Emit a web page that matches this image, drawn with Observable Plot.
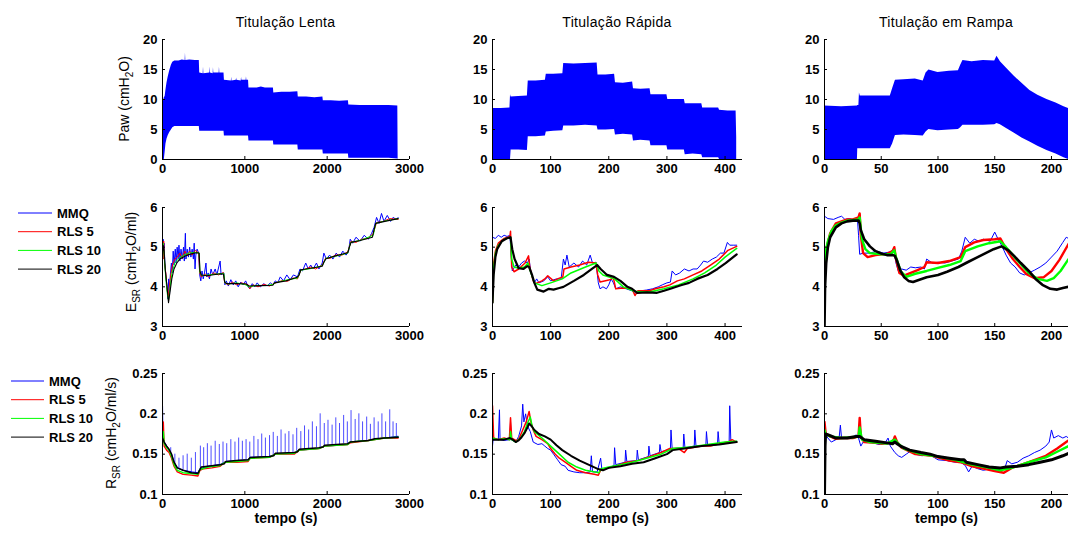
<!DOCTYPE html>
<html><head><meta charset="utf-8">
<script src="https://cdn.jsdelivr.net/npm/d3@7"></script>
<script src="https://cdn.jsdelivr.net/npm/@observablehq/plot@0.6"></script>
<style>
body{margin:0;background:#fff;}
#fig{position:relative;width:1068px;height:539px;overflow:hidden;background:#fff;}
#fig svg{position:absolute;}
</style></head><body><div id="fig"></div>
<script>
// ---------------- DATA ----------------
const titles = ["Titulação Lenta", "Titulação Rápida", "Titulação em Rampa"];
const seriesNames = ["MMQ", "RLS 5", "RLS 10", "RLS 20"];
const xTicks = [[0,1000,2000,3000],[0,100,200,300,400],[0,50,100,150,200]];
const xDomains = [[0,3000],[0,430],[0,215]];
const yTicks = [[0,5,10,15,20],[3,4,5,6],[0.1,0.15,0.2,0.25]];
const yDomains = [[0,20],[3,6],[0.1,0.25]];
const xLabel = "tempo (s)";
const yLabelParts = [
  [["Paw (cmH",0],["2",1],["O)",0]],
  [["E",0],["SR",1],[" (cmH",0],["2",1],["O/ml)",0]],
  [["R",0],["SR",1],[" (cmH",0],["2",1],["O/ml/s)",0]]
];

// Paw envelopes: [t, lower, upper]
const pawLenta = [
[0,0,8.3],[10,0,9.6],[22,0,10.3],[32,1.2,10.5],[42,2.6,11.6],[55,3.4,12.8],[70,4.0,13.8],[88,4.5,14.8],[108,4.9,15.7],[125,5.3,16.2],[150,5.5,16.4],[200,5.5,16.4],[240,5.5,16.6],[275,5.5,16.5],[279,5.5,17.7],[283,5.5,16.5],[330,5.5,16.6],[400,5.5,16.5],[447,5.5,16.5],
[452,4.7,14.4],[494,4.7,14.3],[498,4.7,15.4],[502,4.7,14.3],[575,4.7,14.4],[579,4.7,15.4],[583,4.7,14.4],[615,4.7,14.3],[619,4.7,15.3],[623,4.7,14.4],[688,4.7,14.4],[692,4.7,15.4],[696,4.7,14.4],[747,4.7,14.4],
[752,3.9,13.2],[836,3.9,13.1],[840,3.9,13.7],[844,3.9,13.1],[896,3.9,13.2],[900,3.9,13.6],[904,3.9,13.2],[956,3.9,13.1],[960,3.9,13.7],[964,3.9,13.2],[1016,3.9,13.2],[1020,3.9,13.8],[1024,3.9,13.2],[1045,3.9,13.2],
[1050,3.1,11.9],[1150,3.1,11.9],[1200,3.1,12.1],[1250,3.1,11.9],[1347,3.1,11.9],
[1352,2.4,11.1],[1450,2.4,11.2],[1550,2.4,11.2],[1644,2.4,11.3],
[1649,1.6,10.4],[1750,1.6,10.4],[1850,1.6,10.3],[1948,1.6,10.4],
[1953,0.9,9.8],[2050,0.9,9.8],[2150,0.9,9.7],[2258,0.9,9.8],
[2263,0.2,9.1],[2400,0.2,9.0],[2600,0.2,9.0],[2750,0.2,9.0],[2858,0.1,8.9],[2862,0,0]];
const pawRapida = [
[0,0,8.5],[15,0,8.5],[30,0,8.6],[31,0,10.8],[32,1.6,10.4],[45,1.6,10.5],[60,1.5,10.6],[61.5,3.8,13.1],[75,3.8,13.1],[91,3.9,13.2],[92.5,4.6,14.2],[105,4.7,14.2],[121,4.8,14.3],[122.5,5.6,16.0],[140,5.6,15.9],[160,5.7,16.0],[180,5.6,16.1],[181.5,4.9,14.1],[195,4.9,14.1],[210,5.0,14.2],[211.5,4.1,12.8],[225,4.2,12.7],[241,4.1,12.9],[242.5,3.1,11.8],[255,3.2,11.7],[271,3.1,11.8],[272.5,2.3,10.8],[285,2.3,10.8],[300,2.3,10.8],[301.5,1.6,10.0],[315,1.6,10.0],[330,1.6,10.0],[331.5,0.8,9.3],[345,0.9,9.3],[360,0.8,9.3],[361.5,0.3,8.6],[375,0.3,8.6],[389,0.3,8.6],[390.5,0,8.2],[405,0,8.1],[419,0,8.1],[420,0,3.7]];
const pawRampa = [
[0,0,8.9],[15,0,8.8],[29,0,8.9],[29.3,1.8,9.0],[30.3,1.8,9.0],[30.8,1.8,11.1],[31.5,1.8,10.6],[45,1.8,10.6],[58,1.8,10.6],[60,2.6,11.8],[62.5,4.0,13.2],[70,4.1,13.3],[80,4.0,13.4],[87,3.9,13.1],[89.5,4.6,14.4],[92,5.0,14.9],[100,4.8,14.5],[110,4.9,14.7],[118,5.0,14.8],[120,5.3,15.7],[122,5.7,16.5],[130,5.7,16.3],[140,5.7,16.5],[150,5.8,16.4],[152,6.0,17.2],[155,5.8,16.3],[160,5.2,15.3],[167,4.4,13.9],[174,3.6,12.7],[181,2.9,11.5],[188,2.2,10.7],[196,1.5,10.0],[204,0.9,9.4],[211,0.3,8.8],[215,0,8.5]];

// E_SR series: [t, value]
const eLentaMMQ = [[0,5.2],[4,4.7],[8,5.2],[14,4.9],[20,5.1],[28,4.6],[40,4.3],[55,4.0],[65,3.7],[75,4.2],[85,3.8],[95,4.3],[108,4.6],[118,4.35],[130,4.9],[140,4.55],[155,4.95],[165,4.6],[178,5.0],[190,4.7],[200,5.05],[212,4.65],[225,4.95],[240,4.7],[255,5.0],[265,4.65],[278,5.35],[285,4.7],[300,4.95],[315,4.75],[330,5.0],[345,4.75],[360,4.95],[375,4.7],[385,5.1],[395,4.45],[405,4.8],[420,4.95],[440,4.85],[452,4.3],[465,4.15],[480,4.4],[495,4.2],[510,4.35],[528,4.6],[538,4.25],[555,4.35],[570,4.2],[590,4.45],[610,4.3],[640,4.45],[660,4.3],[700,4.65],[712,4.3],[730,4.35],[745,4.35],[758,4.05],[775,4.15],[800,4.02],[830,4.18],[860,4.05],[890,4.15],[920,4.0],[950,4.12],[980,4.05],[1010,4.15],[1040,4.0],[1060,3.95],[1090,4.08],[1120,4.0],[1150,4.1],[1190,4.0],[1230,4.08],[1270,4.02],[1310,4.1],[1340,4.05],[1370,4.15],[1400,4.1],[1430,4.25],[1470,4.15],[1510,4.3],[1550,4.18],[1590,4.3],[1640,4.25],[1670,4.45],[1700,4.4],[1740,4.6],[1770,4.45],[1800,4.55],[1830,4.45],[1870,4.6],[1900,4.45],[1940,4.6],[1960,4.85],[1990,4.7],[2030,4.8],[2070,4.7],[2110,4.85],[2150,4.75],[2190,4.9],[2230,4.8],[2260,4.9],[2280,5.2],[2310,5.1],[2350,5.25],[2400,5.15],[2450,5.3],[2500,5.2],[2540,5.35],[2570,5.5],[2600,5.75],[2630,5.6],[2660,5.85],[2690,5.65],[2730,5.8],[2770,5.65],[2800,5.75],[2840,5.7],[2862,5.75]];
const eLentaRLS5 = [[0,5.1],[6,4.7],[15,5.15],[25,4.6],[40,4.35],[55,3.95],[70,3.75],[80,3.95],[100,4.3],[120,4.55],[150,4.7],[180,4.75],[210,4.85],[240,4.72],[270,4.9],[300,4.78],[330,4.9],[360,4.8],[400,4.92],[440,4.85],[452,4.35],[470,4.25],[520,4.32],[560,4.25],[620,4.35],[680,4.3],[740,4.36],[755,4.1],[800,4.05],[850,4.12],[900,4.05],[960,4.1],[1040,4.05],[1060,3.95],[1100,4.05],[1160,4.0],[1230,4.06],[1300,4.02],[1350,4.08],[1400,4.12],[1460,4.16],[1520,4.14],[1580,4.22],[1640,4.2],[1680,4.42],[1740,4.45],[1800,4.5],[1860,4.45],[1940,4.55],[1980,4.72],[2040,4.72],[2100,4.8],[2180,4.8],[2250,4.88],[2290,5.15],[2350,5.12],[2420,5.2],[2500,5.22],[2560,5.35],[2600,5.62],[2680,5.65],[2760,5.72],[2862,5.7]];
const eLentaRLS10 = [[0,4.9],[8,5.1],[20,4.8],[40,4.2],[60,3.8],[73,3.65],[90,3.95],[115,4.35],[150,4.6],[200,4.72],[260,4.8],[320,4.85],[400,4.87],[445,4.85],[455,4.35],[480,4.28],[560,4.3],[650,4.32],[745,4.34],[758,4.1],[800,4.07],[900,4.1],[1000,4.06],[1050,4.0],[1150,4.04],[1250,4.03],[1340,4.06],[1370,4.1],[1500,4.17],[1640,4.22],[1680,4.42],[1800,4.46],[1940,4.53],[1985,4.72],[2100,4.77],[2250,4.85],[2285,5.12],[2400,5.17],[2560,5.3],[2590,5.6],[2700,5.66],[2862,5.72]];
const eLentaRLS20 = [[0,4.8],[8,5.05],[20,4.9],[35,4.4],[55,4.0],[73,3.6],[90,3.85],[113,4.2],[140,4.45],[174,4.6],[210,4.7],[255,4.75],[300,4.8],[336,4.82],[380,4.85],[420,4.86],[445,4.85],[455,4.4],[470,4.3],[539,4.28],[600,4.3],[702,4.33],[740,4.32],[755,4.12],[780,4.08],[900,4.08],[1020,4.07],[1050,4.02],[1200,4.03],[1340,4.04],[1360,4.1],[1500,4.15],[1635,4.24],[1660,4.3],[1680,4.43],[1800,4.47],[1940,4.52],[1960,4.62],[1985,4.71],[2100,4.78],[2250,4.86],[2270,5.0],[2290,5.12],[2400,5.17],[2550,5.25],[2570,5.45],[2590,5.6],[2700,5.65],[2862,5.72]];

const eRapidaMMQ = [[0,5.25],[5,5.22],[10,5.3],[15,5.25],[20,5.3],[25,5.27],[30,5.3],[32,4.8],[34,4.4],[40,4.55],[45,4.5],[50,4.6],[55,4.65],[60,4.6],[63,4.7],[66,4.35],[72,4.1],[76,4.2],[80,4.1],[88,4.15],[95,4.25],[100,4.15],[110,4.2],[118,4.2],[122,4.7],[125,4.55],[128,4.8],[132,4.5],[140,4.6],[148,4.5],[155,4.65],[162,4.55],[168,4.8],[172,4.6],[178,4.62],[182,4.1],[185,3.95],[190,4.0],[196,3.95],[200,4.05],[204,4.2],[208,4.1],[212,3.95],[220,4.0],[230,3.95],[240,3.9],[246,3.82],[255,3.9],[265,3.92],[275,3.95],[285,4.0],[292,4.05],[300,4.1],[306,4.12],[309,4.4],[315,4.3],[322,4.35],[330,4.45],[338,4.4],[345,4.45],[352,4.45],[358,4.55],[363,4.65],[370,4.62],[378,4.7],[385,4.75],[392,4.85],[398,4.85],[404,5.12],[408,5.05],[414,5.05],[420,5.05]];
const eRapidaRLS5 = [[0,3.6],[2,4.6],[5,4.9],[10,5.1],[20,5.22],[30,5.27],[31,5.4],[33,4.5],[37,4.38],[45,4.45],[56,4.6],[62,4.78],[64,4.5],[70,4.15],[74,4.08],[85,4.15],[90,4.2],[95,4.28],[105,4.15],[115,4.22],[121,4.25],[123,4.45],[135,4.5],[150,4.55],[165,4.62],[178,4.6],[181,4.3],[185,4.12],[200,4.17],[208,4.22],[212,3.95],[225,3.97],[240,3.95],[245,3.78],[250,3.9],[270,3.9],[280,3.95],[295,4.0],[305,4.05],[318,4.15],[330,4.2],[345,4.3],[360,4.4],[375,4.55],[390,4.7],[405,4.92],[420,5.02]];
const eRapidaRLS10 = [[0,3.6],[2,4.5],[5,4.85],[10,5.05],[20,5.2],[31,5.25],[33,4.7],[37,4.5],[45,4.47],[55,4.5],[61,4.6],[65,4.4],[72,4.1],[85,4.03],[100,4.1],[120,4.2],[135,4.35],[160,4.5],[178,4.6],[183,4.4],[190,4.3],[210,4.2],[225,4.0],[245,3.88],[270,3.87],[295,3.95],[320,4.05],[345,4.2],[365,4.35],[385,4.55],[400,4.75],[420,4.97]];
const eRapidaRLS20 = [[0,3.6],[2,4.3],[5,4.75],[8,4.95],[16,5.15],[24,5.22],[31,5.25],[34,4.95],[38,4.7],[45,4.47],[53,4.45],[60,4.52],[63,4.5],[68,4.3],[72,4.1],[77,3.93],[88,3.88],[97,3.95],[105,3.93],[115,3.97],[122,4.0],[140,4.15],[157,4.3],[171,4.45],[180,4.55],[186,4.45],[197,4.3],[209,4.25],[220,4.15],[232,4.0],[240,3.95],[249,3.85],[266,3.86],[283,3.85],[295,3.9],[306,3.95],[324,4.04],[338,4.1],[352,4.2],[370,4.3],[387,4.45],[401,4.6],[420,4.82]];

const eRampaMMQ = [[0,5.78],[3,5.72],[8,5.7],[12,5.75],[15,5.78],[18,5.7],[22,5.72],[26,5.68],[29,5.72],[30,5.3],[31,4.82],[34,4.85],[40,4.85],[46,4.9],[52,4.85],[58,4.88],[61,4.95],[63,4.6],[65,4.4],[68,4.45],[72,4.42],[76,4.5],[80,4.48],[85,4.5],[88,4.45],[90,4.7],[95,4.6],[100,4.62],[106,4.6],[112,4.65],[118,4.7],[121,4.9],[124,5.25],[128,5.1],[132,5.2],[136,5.15],[140,5.2],[146,5.15],[150,5.38],[153,5.2],[156,5.05],[160,4.8],[164,4.6],[168,4.5],[172,4.35],[176,4.3],[180,4.35],[185,4.42],[190,4.5],[195,4.6],[200,4.75],[205,4.9],[210,5.12],[213,5.25],[215,5.22]];
const eRampaRLS5 = [[0,4.2],[0.5,4.6],[2,5.0],[5,5.35],[10,5.6],[15,5.65],[20,5.7],[25,5.7],[30,5.75],[31,5.85],[32,5.3],[34,4.85],[38,4.75],[45,4.8],[55,4.83],[60,4.9],[61.5,5.0],[63,4.7],[66,4.35],[70,4.28],[76,4.35],[82,4.42],[88,4.5],[90,4.62],[100,4.6],[110,4.65],[120,4.75],[124,5.0],[132,5.12],[140,5.18],[150,5.2],[155,5.22],[160,4.95],[166,4.7],[172,4.5],[178,4.32],[185,4.22],[193,4.24],[200,4.4],[207,4.68],[215,5.08]];
const eRampaRLS10 = [[0,4.6],[1,4.9],[3,5.15],[6,5.4],[10,5.55],[15,5.62],[20,5.67],[30,5.7],[31,5.75],[33,5.2],[36,4.95],[40,4.85],[50,4.82],[58,4.82],[61.5,4.92],[63,4.75],[67,4.4],[72,4.25],[80,4.33],[90,4.4],[100,4.48],[110,4.55],[120,4.65],[124,4.9],[135,5.02],[145,5.1],[155,5.15],[160,5.0],[166,4.8],[172,4.6],[180,4.35],[188,4.2],[196,4.15],[202,4.22],[208,4.4],[215,4.7]];
const eRampaRLS20 = [[0,3.0],[0.5,4.0],[1.5,4.6],[3,5.0],[5,5.25],[10,5.5],[15,5.6],[20,5.65],[25,5.67],[30,5.67],[31,5.6],[32,5.43],[35,5.2],[40,5.02],[45,4.9],[50,4.84],[55,4.8],[60,4.8],[62,4.78],[64,4.65],[67,4.4],[70,4.25],[74,4.15],[78,4.12],[83,4.17],[90,4.24],[100,4.3],[108,4.38],[118,4.5],[126,4.62],[135,4.75],[142,4.85],[149,4.95],[156,5.02],[162,4.92],[167,4.78],[173,4.6],[180,4.4],[186,4.2],[192,4.05],[199,3.95],[205,3.93],[210,3.97],[215,4.0]];

// R_SR series: [t, value]
const rLentaMMQ = [[0,0.21],[5,0.17],[20,0.165],[50,0.16],[80,0.155],[110,0.15],[140,0.14],[180,0.133],[250,0.13],[350,0.128],[430,0.127],[455,0.132],[550,0.135],[700,0.137],[770,0.141],[900,0.142],[1040,0.143],[1065,0.146],[1300,0.147],[1370,0.15],[1600,0.151],[1660,0.155],[1900,0.157],[1970,0.16],[2250,0.162],[2280,0.165],[2500,0.167],[2700,0.17],[2862,0.172]];
const rLentaMMQSpikes = [[100,0.152,0.158],[150,0.138,0.15],[200,0.132,0.145],[250,0.13,0.148],[300,0.128,0.15],[350,0.127,0.145],[400,0.126,0.152],[460,0.132,0.16],[500,0.133,0.158],[545,0.134,0.163],[590,0.135,0.16],[640,0.136,0.166],[690,0.137,0.162],[735,0.138,0.165],[780,0.141,0.163],[830,0.141,0.168],[880,0.142,0.165],[925,0.142,0.17],[970,0.143,0.166],[1015,0.143,0.168],[1060,0.145,0.165],[1110,0.146,0.172],[1160,0.146,0.168],[1205,0.147,0.175],[1250,0.147,0.17],[1300,0.147,0.173],[1345,0.148,0.177],[1395,0.15,0.172],[1440,0.15,0.18],[1490,0.151,0.175],[1535,0.151,0.178],[1585,0.152,0.174],[1630,0.153,0.182],[1680,0.155,0.178],[1725,0.156,0.185],[1775,0.156,0.18],[1820,0.157,0.19],[1870,0.158,0.184],[1915,0.158,0.2],[1965,0.16,0.188],[2010,0.161,0.192],[2060,0.161,0.186],[2105,0.162,0.195],[2150,0.162,0.188],[2200,0.163,0.198],[2245,0.163,0.19],[2290,0.165,0.204],[2340,0.165,0.193],[2385,0.166,0.2],[2430,0.166,0.19],[2480,0.167,0.196],[2525,0.167,0.187],[2570,0.168,0.195],[2620,0.169,0.19],[2665,0.17,0.2],[2710,0.17,0.19],[2760,0.17,0.205],[2800,0.171,0.19],[2840,0.171,0.188]];
const rLentaRLS5 = [[0,0.165],[10,0.19],[20,0.16],[50,0.155],[80,0.152],[110,0.145],[140,0.135],[180,0.128],[250,0.125],[350,0.124],[430,0.123],[455,0.13],[500,0.132],[600,0.133],[700,0.135],[760,0.14],[900,0.14],[1040,0.141],[1065,0.145],[1300,0.146],[1370,0.15],[1600,0.15],[1660,0.155],[1900,0.157],[1970,0.16],[2250,0.162],[2280,0.164],[2500,0.167],[2700,0.17],[2862,0.17]];
const rLentaRLS10 = [[0,0.17],[10,0.178],[20,0.163],[50,0.158],[80,0.155],[110,0.147],[140,0.137],[180,0.13],[250,0.127],[350,0.126],[430,0.125],[455,0.131],[550,0.134],[700,0.136],[760,0.14],[900,0.141],[1040,0.142],[1065,0.145],[1300,0.146],[1370,0.15],[1600,0.151],[1660,0.155],[1900,0.157],[1970,0.16],[2250,0.162],[2280,0.165],[2500,0.167],[2700,0.17],[2862,0.171]];
const rLentaRLS20 = [[0,0.17],[20,0.165],[50,0.16],[80,0.156],[110,0.15],[140,0.14],[180,0.133],[250,0.13],[350,0.127],[430,0.126],[455,0.131],[470,0.134],[550,0.135],[700,0.137],[750,0.138],[770,0.141],[900,0.142],[1040,0.143],[1065,0.146],[1300,0.147],[1350,0.148],[1370,0.151],[1600,0.152],[1640,0.153],[1660,0.156],[1900,0.158],[1950,0.159],[1970,0.161],[2250,0.163],[2280,0.165],[2500,0.167],[2580,0.169],[2700,0.17],[2862,0.171]];

const rRapidaMMQ = [[0,0.16],[1,0.168],[10,0.168],[12,0.205],[13,0.168],[20,0.167],[30,0.168],[31,0.19],[32,0.168],[40,0.165],[45,0.172],[50,0.185],[52,0.212],[54,0.19],[57,0.2],[60,0.185],[65,0.178],[70,0.165],[78,0.162],[85,0.163],[90,0.16],[95,0.157],[100,0.155],[105,0.15],[112,0.143],[118,0.137],[125,0.135],[130,0.13],[140,0.128],[150,0.127],[160,0.127],[168,0.128],[170,0.148],[172,0.128],[180,0.128],[186,0.145],[188,0.132],[200,0.133],[209,0.136],[210,0.158],[212,0.137],[228,0.14],[229,0.155],[231,0.141],[248,0.142],[249,0.155],[251,0.143],[268,0.147],[269,0.16],[271,0.148],[287,0.152],[288,0.162],[290,0.153],[306,0.156],[307,0.18],[309,0.157],[328,0.158],[329,0.175],[331,0.158],[347,0.16],[348,0.18],[350,0.16],[367,0.161],[368,0.178],[370,0.161],[387,0.162],[388,0.178],[390,0.162],[407,0.164],[408,0.21],[410,0.165],[420,0.166]];
const rRapidaRLS5 = [[0,0.21],[2,0.17],[10,0.168],[20,0.17],[29,0.168],[31,0.195],[33,0.17],[40,0.167],[45,0.168],[52,0.18],[58,0.19],[63,0.203],[66,0.19],[70,0.18],[75,0.172],[85,0.168],[95,0.163],[100,0.157],[108,0.15],[115,0.145],[125,0.14],[135,0.135],[145,0.13],[160,0.127],[175,0.125],[182,0.124],[186,0.13],[200,0.133],[215,0.136],[230,0.14],[250,0.142],[270,0.147],[290,0.152],[305,0.157],[320,0.157],[330,0.152],[335,0.157],[360,0.16],[375,0.16],[390,0.163],[405,0.165],[412,0.168],[420,0.165]];
const rRapidaRLS10 = [[0,0.17],[10,0.168],[20,0.169],[30,0.168],[31,0.178],[33,0.168],[40,0.165],[48,0.17],[55,0.178],[60,0.188],[65,0.196],[68,0.185],[72,0.178],[85,0.17],[100,0.16],[115,0.15],[130,0.14],[145,0.134],[160,0.13],[183,0.127],[187,0.132],[200,0.134],[220,0.137],[240,0.14],[265,0.145],[290,0.15],[310,0.157],[340,0.159],[370,0.162],[400,0.165],[420,0.166]];
const rRapidaRLS20 = [[0,0.168],[10,0.168],[20,0.168],[30,0.17],[35,0.168],[40,0.165],[45,0.167],[50,0.171],[55,0.176],[60,0.183],[63,0.188],[67,0.185],[72,0.18],[80,0.175],[90,0.172],[100,0.168],[110,0.161],[120,0.155],[135,0.148],[150,0.142],[165,0.137],[180,0.132],[190,0.13],[200,0.133],[220,0.135],[240,0.138],[260,0.14],[280,0.145],[300,0.15],[310,0.155],[330,0.157],[360,0.16],[390,0.162],[420,0.165]];

const rRampaMMQ = [[0,0.175],[3,0.17],[6,0.165],[10,0.168],[13,0.172],[14,0.186],[15,0.17],[20,0.17],[25,0.171],[28,0.174],[30,0.17],[32,0.16],[34,0.165],[40,0.165],[48,0.162],[53,0.163],[56,0.17],[58,0.16],[62,0.152],[65,0.148],[68,0.146],[72,0.15],[76,0.154],[80,0.15],[86,0.148],[92,0.15],[100,0.143],[108,0.142],[115,0.14],[120,0.14],[124,0.136],[127,0.128],[130,0.135],[135,0.132],[140,0.13],[146,0.132],[150,0.13],[155,0.128],[159,0.133],[161,0.142],[165,0.138],[170,0.14],[175,0.145],[180,0.148],[185,0.152],[190,0.155],[195,0.16],[198,0.165],[200,0.18],[202,0.17],[206,0.173],[210,0.17],[213,0.172],[215,0.17]];
const rRampaRLS5 = [[0,0.19],[1,0.176],[5,0.172],[10,0.169],[15,0.17],[25,0.17],[30,0.172],[31,0.195],[32,0.172],[35,0.165],[45,0.164],[50,0.163],[58,0.164],[61,0.168],[62,0.172],[64,0.165],[68,0.158],[80,0.15],[95,0.148],[110,0.142],[120,0.14],[130,0.135],[140,0.132],[150,0.129],[158,0.127],[165,0.133],[180,0.14],[195,0.148],[205,0.157],[213,0.165],[215,0.167]];
const rRampaRLS10 = [[0,0.18],[1,0.175],[5,0.172],[15,0.17],[25,0.171],[30,0.172],[31,0.183],[33,0.168],[40,0.165],[55,0.163],[62,0.168],[65,0.163],[70,0.157],[85,0.15],[100,0.147],[115,0.143],[130,0.137],[145,0.133],[155,0.13],[165,0.133],[180,0.14],[195,0.146],[205,0.153],[215,0.16]];
const rRampaRLS20 = [[0,0.1],[0.5,0.16],[1,0.175],[5,0.173],[10,0.17],[20,0.17],[28,0.172],[31,0.172],[35,0.168],[45,0.166],[55,0.164],[60,0.163],[62,0.165],[64,0.163],[67,0.16],[75,0.155],[85,0.152],[93,0.15],[100,0.147],[110,0.145],[120,0.143],[123,0.143],[125,0.14],[135,0.137],[145,0.134],[155,0.133],[160,0.134],[170,0.135],[180,0.137],[190,0.14],[200,0.143],[210,0.148],[215,0.151]];

// ---------------- ASSEMBLY ----------------
const pawBands = [pawLenta, pawRapida, pawRampa];
const eSeries = [[eLentaMMQ,eLentaRLS5,eLentaRLS10,eLentaRLS20],[eRapidaMMQ,eRapidaRLS5,eRapidaRLS10,eRapidaRLS20],[eRampaMMQ,eRampaRLS5,eRampaRLS10,eRampaRLS20]];
const rSeries = [[rLentaMMQ,rLentaRLS5,rLentaRLS10,rLentaRLS20],[rRapidaMMQ,rRapidaRLS5,rRapidaRLS10,rRapidaRLS20],[rRampaMMQ,rRampaRLS5,rRampaRLS10,rRampaRLS20]];
const rSpikes = [rLentaMMQSpikes, null, null];

// ---------------- LAYOUT / STYLE ----------------
const FONT = '"Liberation Sans", Arial, Helvetica, sans-serif';
const seriesColors = ["#0000ff", "#ff0000", "#00ff00", "#000000"];
const colLayout = [{x0:162, w:247, mR:12}, {x0:492, w:250, mR:12}, {x0:824, w:244, mR:0}];
const rowLayout = [{y0:39, h:120}, {y0:207, h:119}, {y0:373, h:121}];
const strokeW = [null,
  [[1,1,1,1.1],[1,1.5,1.5,2.2],[1,2.4,2.4,2.6]],
  [[1.1,1.4,1.4,1.5],[1,1.5,1.5,2],[1,2.4,2.4,3]]];
const yLabelPos = [{x:129, y:99}, {x:136, y:262}, {x:116, y:433}];
const legendPos = [null, {x1:18, x2:52, tx:57, y0:213, dy:18.7}, {x1:11, x2:44, tx:49, y0:381, dy:18.7}];

const fig = document.getElementById("fig");
const mL = 42, mT = 8, mB = 38;

function makePanel(ci, ri) {
  const C = colLayout[ci], R = rowLayout[ri];
  const xd = xDomains[ci], yd = yDomains[ri];
  const ty = (yd[1]-yd[0]) * 3 / R.h, tx = (xd[1]-xd[0]) * 3 / C.w;
  const marks = [];
  if (ri === 0) {
    marks.push(Plot.areaY(pawBands[ci], {x: d=>d[0], y1: d=>d[1], y2: d=>d[2], fill: "#0000ff", clip: true}));
  } else {
    const S = ri === 1 ? eSeries[ci] : rSeries[ci];
    if (ri === 2 && rSpikes[ci]) {
      marks.push(Plot.ruleX(rSpikes[ci], {x: d=>d[0], y1: d=>d[1], y2: d=>d[2], stroke: seriesColors[0], strokeWidth: 1, strokeOpacity: 0.7, clip: true}));
    }
    S.forEach((arr, k) => marks.push(Plot.lineY(arr, {x: d=>d[0], y: d=>d[1], stroke: seriesColors[k], strokeWidth: strokeW[ri][ci][k], clip: true})));
  }
  marks.push(
    Plot.ruleX(xTicks[ci], {x: d=>d, y1: yd[0], y2: yd[0]+ty, stroke: "#000"}),
    Plot.ruleY(yTicks[ri], {y: d=>d, x1: xd[0], x2: xd[0]+tx, stroke: "#000"}),
    Plot.ruleX([xd[0]], {stroke: "#000"}),
    Plot.ruleY([yd[0]], {stroke: "#000"}),
    Plot.axisX(xTicks[ci], {tickSize: 0, tickPadding: 4, tickFormat: d=>String(d), label: null}),
    Plot.axisY(yTicks[ri], {tickSize: 0, tickPadding: 5, tickFormat: d=>String(d), label: null})
  );
  if (ri === 2) marks.push(Plot.text([xLabel], {text: d=>d, frameAnchor: "bottom", dy: 28, fontSize: 14, fontWeight: "bold", fill: "#000"}));
  const svg = Plot.plot({
    width: mL + C.w + C.mR, height: mT + R.h + mB,
    marginLeft: mL, marginRight: C.mR, marginTop: mT, marginBottom: mB,
    x: {domain: xd}, y: {domain: yd},
    style: {fontFamily: FONT, fontSize: "13px", fontWeight: "bold", color: "#000", background: "transparent", overflow: "visible"},
    marks
  });
  svg.style.left = (C.x0 - mL) + "px";
  svg.style.top = (R.y0 - mT) + "px";
  svg.style.maxWidth = "none";
  fig.appendChild(svg);
}
for (let ri = 0; ri < 3; ri++) for (let ci = 0; ci < 3; ci++) makePanel(ci, ri);

// overlay for titles, y labels, legends
const ov = d3.select(fig).append("svg").attr("width", 1068).attr("height", 539)
  .style("left", "0px").style("top", "0px").attr("font-family", FONT).attr("fill", "#000");
titles.forEach((t, ci) => {
  ov.append("text").attr("x", colLayout[ci].x0 + colLayout[ci].w/2).attr("y", 27.3)
    .attr("text-anchor", "middle").attr("font-size", 14).attr("letter-spacing", 0.3).text(t);
});
yLabelParts.forEach((parts, ri) => {
  const p = yLabelPos[ri];
  const t = ov.append("text").attr("transform", `translate(${p.x},${p.y}) rotate(-90)`)
    .attr("text-anchor", "middle").attr("font-size", 14);
  let shifted = 0;
  parts.forEach(([s, sub]) => {
    const sp = t.append("tspan").text(s);
    const want = sub ? 4 : 0;
    if (want !== shifted) sp.attr("dy", want - shifted);
    if (sub) sp.attr("font-size", 10);
    shifted = want;
  });
});
legendPos.forEach((L, ri) => {
  if (!L) return;
  seriesNames.forEach((name, k) => {
    const y = L.y0 + k * L.dy;
    ov.append("line").attr("x1", L.x1).attr("x2", L.x2).attr("y1", y).attr("y2", y)
      .attr("stroke", seriesColors[k]).attr("stroke-width", 1);
    ov.append("text").attr("x", L.tx).attr("y", y).attr("dy", "0.35em")
      .attr("font-size", 13).attr("font-weight", "bold").text(name);
  });
});
</script></body></html>
